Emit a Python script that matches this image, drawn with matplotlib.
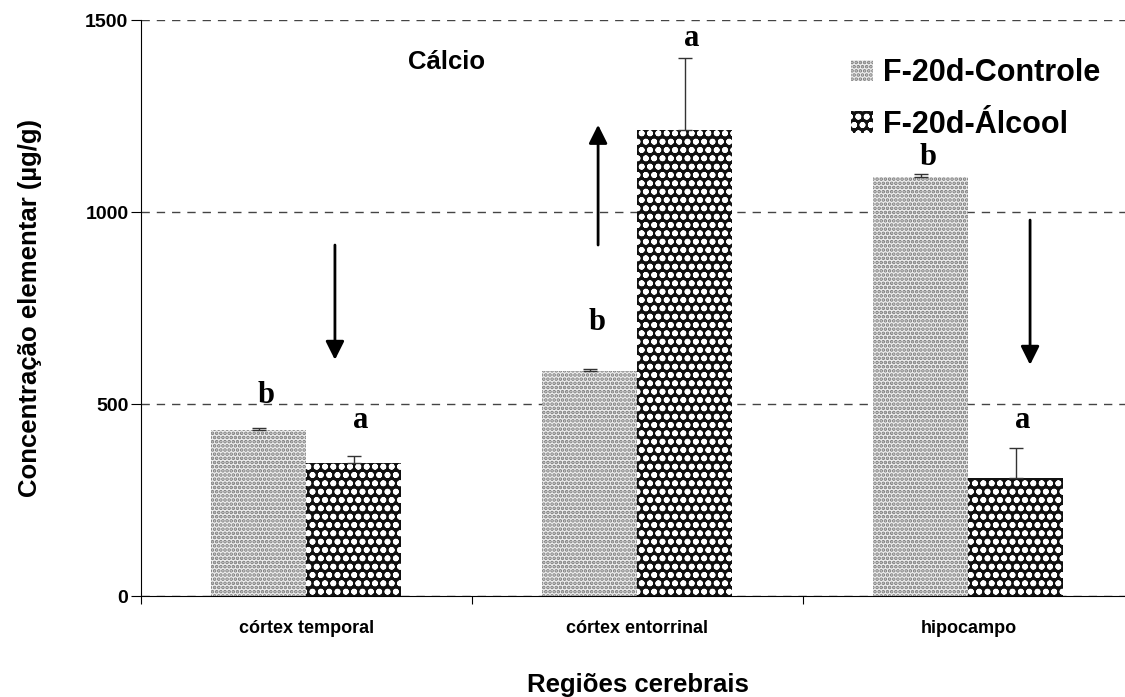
import numpy as np
import matplotlib.pyplot as plt
from matplotlib.patches import Patch

plt.rcParams['font.family'] = ['Liberation Sans', 'DejaVu Sans']
plt.rcParams['hatch.linewidth'] = 1.8

regioes = ['córtex temporal', 'córtex entorrinal', 'hipocampo']
controle = [432, 586, 1091]
controle_err = [5, 5, 8]
alcool = [346, 1214, 307]
alcool_err = [18, 187, 78]
letras_controle = ['b', 'b', 'b']
letras_alcool = ['a', 'a', 'a']
letras_controle_y = [523, 711, 1143]
letras_alcool_y = [458, 1453, 458]
setas = [(0.086, 914, 615), (0.881, 914, 1227), (2.186, 979, 602)]  # x, inicio, fim

fig = plt.figure(figsize=(11.25, 6.97), dpi=100)
ax = fig.add_axes([0.1253, 0.1449, 0.8827, 0.8264])

x = np.arange(len(regioes))
w = 0.287
ax.bar(x - w / 2, controle, w, facecolor='#eeeeee', edgecolor='#7a7a7a',
       hatch='....', linewidth=0, zorder=2)
ax.bar(x + w / 2, alcool, w, facecolor='#111111', edgecolor='white',
       hatch='oo', linewidth=0, zorder=2)
ax.errorbar(x - w / 2, controle, yerr=[np.zeros(3), controle_err], fmt='none',
            ecolor='#333333', elinewidth=1, capsize=5, capthick=1, zorder=3)
ax.errorbar(x + w / 2, alcool, yerr=[np.zeros(3), alcool_err], fmt='none',
            ecolor='#333333', elinewidth=1, capsize=5, capthick=1, zorder=3)

for i in range(3):
    ax.text(x[i] - w / 2 + 0.02, letras_controle_y[i], letras_controle[i],
            ha='center', va='center', fontsize=22, fontweight='bold',
            family='Liberation Serif')
    ax.text(x[i] + w / 2 + 0.02, letras_alcool_y[i], letras_alcool[i],
            ha='center', va='center', fontsize=22, fontweight='bold',
            family='Liberation Serif')

for sx, y0, y1 in setas:
    ax.annotate('', xy=(sx, y1), xytext=(sx, y0),
                arrowprops=dict(arrowstyle='-|>', color='black', lw=2,
                                mutation_scale=28, shrinkA=0, shrinkB=0))

ax.text(0.424, 1391, 'Cálcio', ha='center', va='center', fontsize=18.5,
        fontweight='bold')

ax.set_xlim(-0.5, 2.5)
ax.set_ylim(0, 1500)
ax.set_yticks([0, 500, 1000, 1500])
ax.set_yticklabels(['0', '500', '1000', '1500'], fontsize=14, fontweight='bold')
ax.set_xticks([-0.5, 0.5, 1.5, 2.5])
ax.set_xticklabels([])
ax.set_xticks(x, minor=True)
ax.set_xticklabels(regioes, minor=True, fontsize=13, fontweight='bold')
ax.tick_params(axis='x', which='minor', length=0, pad=17)
ax.tick_params(axis='x', which='major', direction='out', length=6)
ax.tick_params(axis='y', direction='out', length=7, pad=2)
ax.yaxis.grid(True, linestyle=(0, (6, 5)), color='#444444', linewidth=1, zorder=0)
ax.set_axisbelow(True)
for s in ['top', 'right']:
    ax.spines[s].set_visible(False)

ax.set_ylabel('Concentração elementar (µg/g)', fontsize=18.5, fontweight='bold')
ax.yaxis.set_label_coords(-0.10, 0.5)
ax.set_xlabel('Regiões cerebrais', fontsize=18.5, fontweight='bold')
ax.xaxis.set_label_coords(0.5, -0.133)

handles = [Patch(facecolor='#eeeeee', edgecolor='#7a7a7a', hatch='....', linewidth=0),
           Patch(facecolor='#111111', edgecolor='white', hatch='oo', linewidth=0)]
leg = ax.legend(handles, ['F-20d-Controle', 'F-20d-Álcool'], loc='upper left',
                bbox_to_anchor=(0.70, 0.96), frameon=False, handlelength=0.7,
                handleheight=0.7, handletextpad=0.35, labelspacing=0.7,
                borderpad=0, prop={'size': 22, 'weight': 'bold'})

fig.savefig('out.png', dpi=100)
